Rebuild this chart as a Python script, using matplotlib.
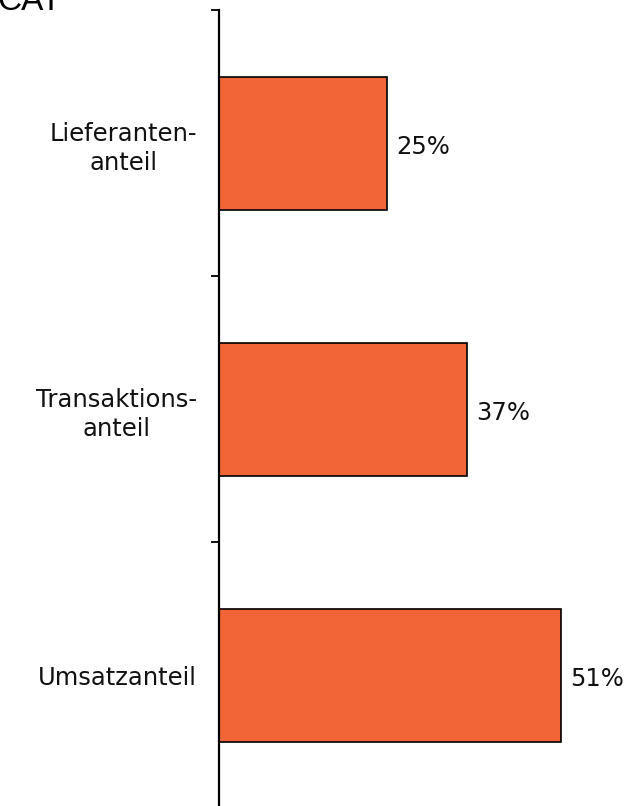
import numpy as np
import matplotlib.pyplot as plt

# Daten
kategorien = ['Lieferanten-\nanteil', 'Transaktions-\nanteil', 'Umsatzanteil']
anteile = [25, 37, 51]
beschriftungen = ['25%', '37%', '51%']

plt.rcParams['font.family'] = ['DejaVu Sans']

fig = plt.figure(figsize=(6.35, 8.06), dpi=100)
ax = fig.add_axes([219 / 635, -2 / 806, 416 / 635, 798 / 806])

y = np.arange(len(kategorien))
ax.barh(y, anteile, height=0.5, color='#F26537', edgecolor='black', linewidth=1.2)

for yi, wert, txt in zip(y, anteile, beschriftungen):
    ax.annotate(txt, (wert, yi), xytext=(6.5, -3), textcoords='offset points',
                ha='left', va='center', fontsize=17.5, color='#111111')

ax.set_ylim(len(kategorien) - 0.5, -0.5)
ax.set_xlim(0, 62)

ax.set_yticks(y)
ax.set_yticklabels(kategorien, fontsize=17.5, multialignment='center',
                   linespacing=1.3, color='#111111')
ax.set_yticks(np.arange(-0.5, len(kategorien), 1.0), minor=True)
ax.tick_params(axis='y', which='major', length=0, pad=16)
ax.tick_params(axis='y', which='minor', length=6, width=1.3, direction='out')
ax.set_xticks([])

for s in ['top', 'right', 'bottom']:
    ax.spines[s].set_visible(False)
ax.spines['left'].set_linewidth(1.6)

# abgeschnittener Titel oben links (im Original am Rand abgeschnitten)
fig.text(-0.005, 1 - 10 / 806, 'CAT', fontsize=24, ha='left', va='baseline',
         family='Liberation Sans')

fig.savefig('out.png', dpi=100)
